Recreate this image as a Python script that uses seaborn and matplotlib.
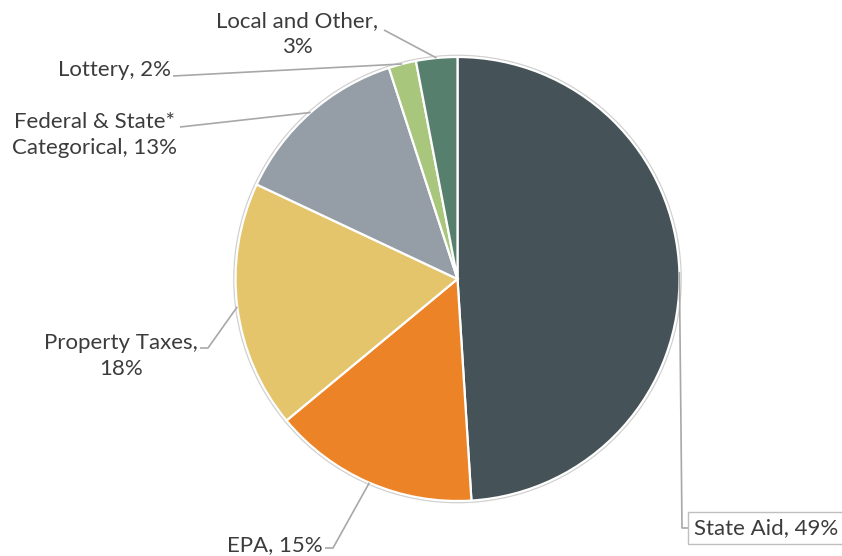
import numpy as np
import matplotlib
matplotlib.use("Agg")
import matplotlib.pyplot as plt
import seaborn as sns

sns.set_theme(style="white")
plt.rcParams['font.family'] = ['Lato', 'DejaVu Sans']

categories = ["State Aid", "EPA", "Property Taxes", "Federal & State*\nCategorical",
              "Lottery", "Local and Other"]
values = [49, 15, 18, 13, 2, 3]
seps = [", ", ", ", ",\n", ", ", ", ", ",\n"]
colors = ["#455257", "#EC8427", "#E5C56C", "#959DA6", "#A8C67C", "#567F6E"]

W, H = 842, 556
fig = plt.figure(figsize=(W / 100, H / 100), dpi=100)
ax = fig.add_axes([0, 0, 1, 1])

def py(y):
    return H - y

cx, cy, r = 457.5, py(279), 222
# subtle outer outline
ax.add_patch(plt.Circle((cx, cy), r + 1.5, facecolor="none", edgecolor="#D0D0D0", lw=1.2, zorder=0))
wedges, _ = ax.pie(values, colors=colors, startangle=90, counterclock=False,
                   center=(cx, cy), radius=r,
                   wedgeprops=dict(edgecolor="white", linewidth=1.6))

ax.set_xlim(0, W)
ax.set_ylim(0, H)
ax.set_aspect("equal")
ax.axis("off")

labels = [f"{c}{s}{v}%" for c, s, v in zip(categories, seps, values)]

# text positions (pixel coords) and leader paths
txt_cfg = [
    dict(xy=(766, 528), ha="center"),   # State Aid
    dict(xy=(323, 545), ha="right"),    # EPA
    dict(xy=(121, 356), ha="center"),   # Property Taxes
    dict(xy=(94, 135), ha="center"),    # Federal
    dict(xy=(171, 70), ha="right"),     # Lottery
    dict(xy=(297, 34), ha="center"),    # Local
]
leader_mid = [
    [(682, 528), (689, 528)],
    [(333, 548), (325, 548)],
    [(208, 348), (200, 348)],
    [(180, 127)],
    [(173, 76)],
    [(384, 30)],
]

txtcol = "#3C3C3C"
lcol = "#A8A8A8"
for w, lab, cfg, mid in zip(wedges, labels, txt_cfg, leader_mid):
    ang = np.deg2rad((w.theta1 + w.theta2) / 2)
    ex, ey = cx + r * np.cos(ang), cy + r * np.sin(ang)
    xs = [ex] + [p[0] for p in mid]
    ys = [ey] + [py(p[1]) for p in mid]
    ax.plot(xs, ys, color=lcol, lw=1.2, zorder=1, solid_capstyle="butt")
    kw = dict(ha=cfg["ha"], va="center", fontsize=16, color=txtcol,
              linespacing=1.32, multialignment="center")
    if lab.startswith("State Aid"):
        kw["bbox"] = dict(boxstyle="square,pad=0.25", facecolor="white", edgecolor="#BFBFBF", lw=1)
    ax.text(cfg["xy"][0], py(cfg["xy"][1]), lab, **kw)

fig.savefig("out.png", dpi=100)
